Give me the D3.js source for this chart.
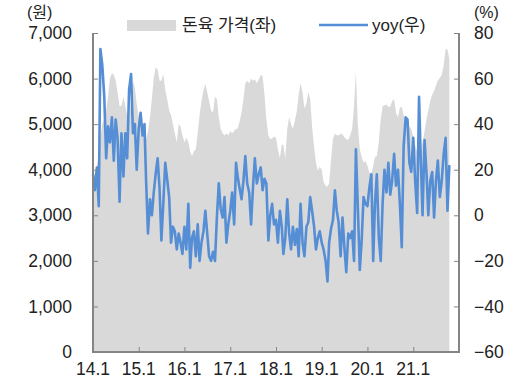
<!DOCTYPE html>
<html>
<head>
<meta charset="utf-8">
<script src="https://cdn.jsdelivr.net/npm/d3@7"></script>
<style>
  body { margin: 0; background: #fff; }
  text { font-family: "Liberation Sans", "Noto Sans CJK KR", sans-serif; fill: #222; }
</style>
</head>
<body>
<svg id="chart" width="524" height="390"></svg>
<script>
// semi-monthly observations
const dates = [
  "2014-01-01","2014-01-16","2014-02-01","2014-02-16","2014-03-01","2014-03-16","2014-04-01","2014-04-16","2014-05-01","2014-05-16","2014-06-01","2014-06-16",
  "2014-07-01","2014-07-16","2014-08-01","2014-08-16","2014-09-01","2014-09-16","2014-10-01","2014-10-16","2014-11-01","2014-11-16","2014-12-01","2014-12-16",
  "2015-01-01","2015-01-16","2015-02-01","2015-02-16","2015-03-01","2015-03-16","2015-04-01","2015-04-16","2015-05-01","2015-05-16","2015-06-01","2015-06-16",
  "2015-07-01","2015-07-16","2015-08-01","2015-08-16","2015-09-01","2015-09-16","2015-10-01","2015-10-16","2015-11-01","2015-11-16","2015-12-01","2015-12-16",
  "2016-01-01","2016-01-16","2016-02-01","2016-02-16","2016-03-01","2016-03-16","2016-04-01","2016-04-16","2016-05-01","2016-05-16","2016-06-01","2016-06-16",
  "2016-07-01","2016-07-16","2016-08-01","2016-08-16","2016-09-01","2016-09-16","2016-10-01","2016-10-16","2016-11-01","2016-11-16","2016-12-01","2016-12-16",
  "2017-01-01","2017-01-16","2017-02-01","2017-02-16","2017-03-01","2017-03-16","2017-04-01","2017-04-16","2017-05-01","2017-05-16","2017-06-01","2017-06-16",
  "2017-07-01","2017-07-16","2017-08-01","2017-08-16","2017-09-01","2017-09-16","2017-10-01","2017-10-16","2017-11-01","2017-11-16","2017-12-01","2017-12-16",
  "2018-01-01","2018-01-16","2018-02-01","2018-02-16","2018-03-01","2018-03-16","2018-04-01","2018-04-16","2018-05-01","2018-05-16","2018-06-01","2018-06-16",
  "2018-07-01","2018-07-16","2018-08-01","2018-08-16","2018-09-01","2018-09-16","2018-10-01","2018-10-16","2018-11-01","2018-11-16","2018-12-01","2018-12-16",
  "2019-01-01","2019-01-16","2019-02-01","2019-02-16","2019-03-01","2019-03-16","2019-04-01","2019-04-16","2019-05-01","2019-05-16","2019-06-01","2019-06-16",
  "2019-07-01","2019-07-16","2019-08-01","2019-08-16","2019-09-01","2019-09-16","2019-10-01","2019-10-16","2019-11-01","2019-11-16","2019-12-01","2019-12-16",
  "2020-01-01","2020-01-16","2020-02-01","2020-02-16","2020-03-01","2020-03-16","2020-04-01","2020-04-16","2020-05-01","2020-05-16","2020-06-01","2020-06-16",
  "2020-07-01","2020-07-16","2020-08-01","2020-08-16","2020-09-01","2020-09-16","2020-10-01","2020-10-16","2020-11-01","2020-11-16","2020-12-01","2020-12-16",
  "2021-01-01","2021-01-16","2021-02-01","2021-02-16","2021-03-01","2021-03-16","2021-04-01","2021-04-16","2021-05-01","2021-05-16","2021-06-01","2021-06-16",
  "2021-07-01","2021-07-16","2021-08-01","2021-08-16","2021-09-01","2021-09-16","2021-10-01","2021-10-16"
];

// 돈육 가격 (원)
const price = [
  3900,3800,4100,4300,4700,5000,5100,5300,5600,6000,6120,6080,5950,5700,5400,5400,5600,5400,5200,5100,5500,5950,5800,5450,
  5150,4950,4800,4650,4650,4850,5150,5550,6000,6250,6200,5950,5950,6100,5750,5550,5300,5200,5000,4800,4600,5000,4950,4750,
  4600,4700,4600,4400,4300,4400,4450,4800,5200,5500,5750,5880,5700,5500,5300,5250,5600,5550,5150,4900,4800,4750,4800,4750,
  4850,4800,4850,4900,4900,5050,5250,5550,5900,5950,5900,6000,5950,5980,5900,5980,6080,6050,5650,5100,4750,4680,4680,4730,
  4700,4450,4250,4550,4550,4250,4900,5150,5000,4900,5080,5280,5650,5900,5700,5350,5450,5700,5550,4950,4500,4150,3980,4070,
  4000,3730,3650,3630,3700,4200,4680,4790,4760,4750,4790,4770,4710,4670,4660,4750,4900,5400,6150,5000,4450,4280,4160,4190,
  4080,3950,3900,4080,4280,4300,4620,5100,5400,5410,5430,5380,5380,5500,5550,5250,5150,5360,5380,5200,5000,5000,4950,4900,
  4720,4550,4380,4300,4380,4600,4850,5100,5300,5500,5650,5730,5850,5960,6010,6080,6300,6650,6640,6420
];

// yoy (%)
const yoy = [
  18,11,21,4,73,66,52,25,39,32,43,24,42,34,6,36,17,36,25,55,62,36,40,20,
  38,45,35,40,15,-8,7,0,10,18,25,12,-11,5,23,16,8,-12,-5,-7,-15,-8,-12,-17,
  -5,-15,5,-23,-10,-7,-18,-4,-20,-12,-7,2,-8,-18,-20,-16,-20,-1,14,3,-1,8,-12,-4,
  2,10,-4,23,17,12,7,15,26,14,10,-4,12,25,14,18,21,11,16,14,-11,0,5,-4,
  -2,-12,2,-5,-17,-10,7,-8,-15,-5,-13,-6,-18,5,-12,-18,-5,-3,8,2,-5,-15,-10,-7,
  -12,-15,-20,-29,-12,-6,-2,11,2,-3,-18,-1,-14,-25,-8,-10,-7,-20,29,4,-24,-11,8,5,
  4,12,18,-20,5,18,-10,-20,5,20,10,23,9,15,27,13,20,5,-14,30,43,42,23,19,
  34,15,1,52,26,0,33,19,0,15,19,-1,15,24,8,15,27,34,2,22
];

const leftTicks = [0, 1000, 2000, 3000, 4000, 5000, 6000, 7000];
const rightTicks = [-60, -40, -20, 0, 20, 40, 60, 80];
const xTickYears = [2014, 2015, 2016, 2017, 2018, 2019, 2020, 2021, 2022];
const xTickLabels = ["14.1", "15.1", "16.1", "17.1", "18.1", "19.1", "20.1", "21.1", ""];

const svg = d3.select('#chart');
const margin = { top: 33, right: 65, bottom: 38, left: 93 };
const width = 524, height = 390;
const x0 = margin.left, x1 = width - margin.right;
const y0 = height - margin.bottom, y1 = margin.top;

const parse = d3.timeParse('%Y-%m-%d');
const data = dates.map((d, i) => ({ date: parse(d), price: price[i], yoy: yoy[i] }));

const x = d3.scaleTime()
  .domain([new Date(2014, 0, 1), new Date(2022, 0, 1)])
  .range([x0, x1]);
const yL = d3.scaleLinear().domain([0, 7000]).range([y0, y1]);
const yR = d3.scaleLinear().domain([-60, 80]).range([y0, y1]);

const axisColor = '#858585';
const blue = '#558ed5';

// price area
svg.append('path')
  .datum(data)
  .attr('fill', '#d9d9d9')
  .attr('d', d3.area()
    .x(d => x(d.date))
    .y0(yL(0))
    .y1(d => yL(d.price)));

// yoy line
svg.append('path')
  .datum(data)
  .attr('fill', 'none')
  .attr('stroke', blue)
  .attr('stroke-width', 2.6)
  .attr('stroke-linejoin', 'round')
  .attr('d', d3.line()
    .x(d => x(d.date))
    .y(d => yR(d.yoy)));

// axes
const leftAxis = svg.append('g')
  .attr('transform', `translate(${x0},0)`)
  .call(d3.axisRight(yL).tickValues(leftTicks).tickSize(5).tickFormat(''));
const rightAxis = svg.append('g')
  .attr('transform', `translate(${x1},0)`)
  .call(d3.axisLeft(yR).tickValues(rightTicks).tickSize(5).tickFormat(''));
const bottomAxis = svg.append('g')
  .attr('transform', `translate(0,${y0})`)
  .call(d3.axisTop(x).tickValues(xTickYears.map(yr => new Date(yr, 0, 1))).tickSize(5).tickFormat(''));

[leftAxis, rightAxis, bottomAxis].forEach(g => {
  g.select('.domain').attr('stroke', axisColor).attr('stroke-width', 2);
  g.selectAll('.tick line').attr('stroke', axisColor).attr('stroke-width', 1);
});
leftAxis.select('.domain').attr('d', `M0,${y1}V${y0 + 1}`);
rightAxis.select('.domain').attr('d', `M0,${y1}V${y0 + 1}`);
bottomAxis.select('.domain').attr('d', `M${x0 - 1},0H${x1 + 1}`);

// tick labels
svg.append('g').selectAll('text')
  .data(leftTicks)
  .join('text')
  .attr('x', 72)
  .attr('y', d => yL(d))
  .attr('dy', '0.35em')
  .attr('text-anchor', 'end')
  .attr('font-size', 17.5)
  .text(d3.format(','));

svg.append('g').selectAll('text')
  .data(rightTicks)
  .join('text')
  .attr('x', 474)
  .attr('y', d => yR(d))
  .attr('dy', '0.35em')
  .attr('font-size', 17.5)
  .text(d => d3.format('d')(d));

svg.append('g').selectAll('text')
  .data(xTickYears)
  .join('text')
  .attr('x', yr => x(new Date(yr, 0, 1)))
  .attr('y', 369)
  .attr('dy', '0.35em')
  .attr('text-anchor', 'middle')
  .attr('font-size', 17.5)
  .text((yr, i) => xTickLabels[i]);

// unit labels
svg.append('text').attr('x', 27).attr('y', 12).attr('dy', '0.35em').attr('font-size', 16).text('(원)');
svg.append('text').attr('x', 474).attr('y', 12).attr('dy', '0.35em').attr('font-size', 16).text('(%)');

// legend
const legend = svg.append('g');
legend.append('rect').attr('x', 127).attr('y', 20).attr('width', 49).attr('height', 11).attr('fill', '#d9d9d9');
legend.append('text').attr('x', 182).attr('y', 25).attr('dy', '0.35em').attr('font-size', 17).text('돈육 가격(좌)');
legend.append('line').attr('x1', 319).attr('x2', 368).attr('y1', 25).attr('y2', 25)
  .attr('stroke', blue).attr('stroke-width', 2.4);
legend.append('text').attr('x', 372).attr('y', 25).attr('dy', '0.35em').attr('font-size', 17).text('yoy(우)');
</script>
</body>
</html>
